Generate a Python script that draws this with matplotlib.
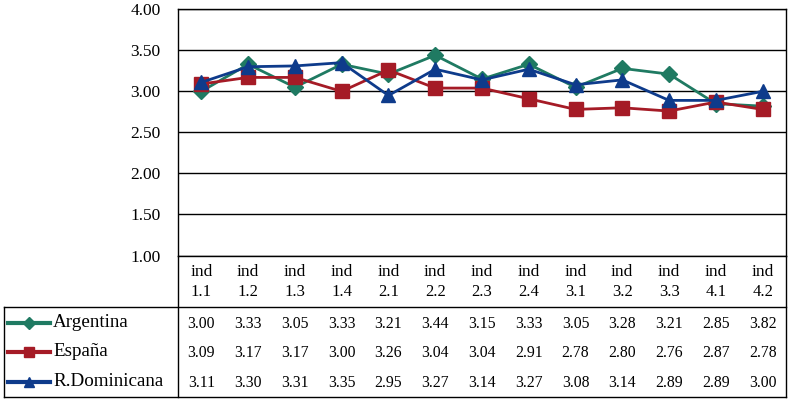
import matplotlib
matplotlib.use("Agg")
import matplotlib.pyplot as plt
from matplotlib.lines import Line2D
from matplotlib.transforms import blended_transform_factory
import numpy as np

plt.rcParams['font.family'] = ['Liberation Serif', 'DejaVu Serif']

# datos
categories = ["1.1", "1.2", "1.3", "1.4", "2.1", "2.2", "2.3",
              "2.4", "3.1", "3.2", "3.3", "4.1", "4.2"]
argentina = [3.00, 3.33, 3.05, 3.33, 3.21, 3.44, 3.15, 3.33, 3.05, 3.28, 3.21, 2.85, 2.82]
espana = [3.09, 3.17, 3.17, 3.00, 3.26, 3.04, 3.04, 2.91, 2.78, 2.80, 2.76, 2.87, 2.78]
rdominicana = [3.11, 3.30, 3.31, 3.35, 2.95, 3.27, 3.14, 3.27, 3.08, 3.14, 2.89, 2.89, 3.00]
series_names = ["Argentina", "España", "R.Dominicana"]

# texto de la tabla (el original imprime 3.82 en la ultima celda de Argentina)
arg_txt = ["%.2f" % v for v in argentina]
arg_txt[-1] = "3.82"
table_txt = [arg_txt,
             ["%.2f" % v for v in espana],
             ["%.2f" % v for v in rdominicana]]

colors = ["#1f7a62", "#a51b26", "#0e3b8b"]
markers = ["D", "s", "^"]
msizes = [8.5, 10, 10]

W, H = 789, 399
fig = plt.figure(figsize=(W / 100, H / 100), dpi=100)

# zona del grafico, en pixeles
left, right, top, bottom = 178, 786, 9.3, 255.5
ax = fig.add_axes([left / W, 1 - bottom / H, (right - left) / W, (bottom - top) / H])

x = np.arange(len(categories))
for vals, c, m, ms in zip([argentina, espana, rdominicana], colors, markers, msizes):
    ax.plot(x, vals, color=c, lw=2, marker=m, ms=ms, mec=c, mfc=c, zorder=3)

ax.set_xlim(-0.5, len(categories) - 0.5)
ax.set_ylim(1, 4)
ax.set_yticks(np.arange(1, 4.01, 0.5))
ax.set_yticklabels(["%.2f" % t for t in np.arange(1, 4.01, 0.5)], fontsize=12.5)
ax.tick_params(axis='y', length=0, pad=12.5)
ax.set_xticks([])
ax.grid(axis='y', color='black', lw=1)
for s in ax.spines.values():
    s.set_color('black')
    s.set_linewidth(1)

def ya(py):
    return (bottom - py) / (bottom - top)

tr = blended_transform_factory(ax.transData, ax.transAxes)

# etiquetas de categoria
for i, c in enumerate(categories):
    ax.text(i, ya(271.5), "ind", transform=tr, ha='center', va='center',
            fontsize=12.5, clip_on=False)
    ax.text(i, ya(291.5), c, transform=tr, ha='center', va='center',
            fontsize=12, clip_on=False)

# tabla de datos
row_y = [323.5, 353, 383]
for r, row in enumerate(table_txt):
    for i, t in enumerate(row):
        ax.text(i, ya(row_y[r]), t, transform=tr, ha='center', va='center',
                fontsize=11.3, clip_on=False)

# marco de la tabla
def fline(xs, ys, lw=1):
    fig.add_artist(Line2D([xx / W for xx in xs], [1 - yy / H for yy in ys],
                          color='black', lw=lw))

fline([left, left], [bottom, 396.5])
fline([right, right], [bottom, 396.5])
fline([3.5, right], [307, 307])
fline([3.5, right], [396.5, 396.5])
fline([3.5, 3.5], [307, 396.5])

# claves de leyenda
for r, (name, c, m) in enumerate(zip(series_names, colors, markers)):
    py = row_y[r] - 1
    fig.add_artist(Line2D([8 / W, 50 / W], [1 - py / H, 1 - py / H], color=c, lw=3))
    fig.add_artist(Line2D([29 / W], [1 - py / H], color=c, marker=m,
                          ms=7.5 if m != "D" else 6.5, mec=c, mfc=c))
    fig.text(53 / W, 1 - py / H, name, ha='left', va='center', fontsize=13.7)

fig.savefig("out.png", dpi=100)
